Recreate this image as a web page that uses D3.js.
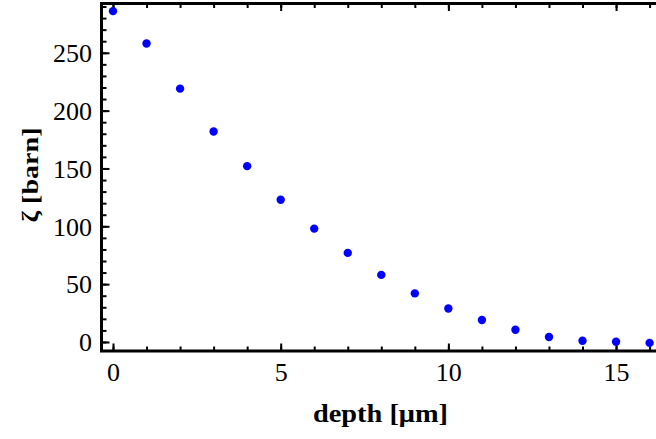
<!DOCTYPE html>
<html lang="en">
<head>
  <meta charset="UTF-8">
  <title>zeta vs depth</title>
  <script src="https://d3js.org/d3.v7.min.js"></script>
  <style>
    body { margin: 0; padding: 0; background: #fff; }
    svg { display: block; }
    .tick text { font-family: "Liberation Serif", "DejaVu Serif", serif; font-size: 26px; fill: #000; }
    .tick line { stroke: #000; stroke-width: 2px; }
    .title { font-family: "Liberation Serif", "DejaVu Serif", serif; font-weight: bold; fill: #000; }
  </style>
</head>
<body>
  <div id="chart"></div>
  <script>
    // data
    const depth = [0, 1, 2, 3, 4, 5, 6, 7, 8, 9, 10, 11, 12, 13, 14, 15, 16];
    const zeta = [286, 258, 219, 182, 152, 123, 98, 77, 58, 42, 29, 19, 10.6, 4.3, 1, 0.2, -0.8];

    const xMajor = [0, 5, 10, 15];
    const xMinor = d3.range(0, 17, 1);
    const yMajor = [0, 50, 100, 150, 200, 250];
    const yMinor = d3.range(0, 300, 10);

    const width = 656, height = 439;
    const plotLeft = 101.5, plotRight = 662, plotTop = 3.5, plotBottom = 351;

    const x = d3.scaleLinear().domain([-0.343, 16.37]).range([plotLeft, plotRight]);
    const y = d3.scaleLinear().domain([-7.8, 292.6]).range([plotBottom, plotTop]);

    const svg = d3.select("#chart").append("svg")
      .attr("width", width)
      .attr("height", height);

    // minor ticks
    svg.append("g")
      .attr("transform", `translate(${plotLeft},0)`)
      .call(d3.axisLeft(y).tickValues(yMinor).tickSize(-5).tickFormat(""))
      .call(g => g.select(".domain").remove());
    svg.append("g")
      .attr("transform", `translate(0,${plotBottom})`)
      .call(d3.axisBottom(x).tickValues(xMinor).tickSize(-4.5).tickFormat(""))
      .call(g => g.select(".domain").remove());
    svg.append("g")
      .attr("transform", `translate(0,${plotTop})`)
      .call(d3.axisTop(x).tickValues(xMinor).tickSize(-4.5).tickFormat(""))
      .call(g => g.select(".domain").remove());

    // major ticks with labels
    svg.append("g")
      .attr("transform", `translate(${plotLeft},0)`)
      .call(d3.axisLeft(y).tickValues(yMajor).tickSizeInner(-8).tickSizeOuter(0).tickPadding(9.5))
      .call(g => g.select(".domain").remove())
      .call(g => g.selectAll(".tick text").attr("dy", "0.34em"));
    svg.append("g")
      .attr("transform", `translate(0,${plotBottom})`)
      .call(d3.axisBottom(x).tickValues(xMajor).tickSizeInner(-7.5).tickSizeOuter(0).tickPadding(12))
      .call(g => g.select(".domain").remove());
    svg.append("g")
      .attr("transform", `translate(0,${plotTop})`)
      .call(d3.axisTop(x).tickValues(xMajor).tickSizeInner(-7.5).tickSizeOuter(0).tickFormat(""))
      .call(g => g.select(".domain").remove());

    // frame
    svg.append("path")
      .attr("d", `M${plotRight},${plotTop}H${plotLeft}V${plotBottom}H${plotRight}`)
      .attr("fill", "none")
      .attr("stroke", "#000")
      .attr("stroke-width", 3);

    // points
    svg.append("g")
      .selectAll("circle")
      .data(depth)
      .join("circle")
      .attr("cx", d => x(d))
      .attr("cy", (d, i) => y(zeta[i]))
      .attr("r", 4.2)
      .attr("fill", "#0000ff");

    // axis titles
    svg.append("text")
      .attr("class", "title")
      .attr("x", 380.5)
      .attr("y", 422)
      .attr("text-anchor", "middle")
      .attr("font-size", 25)
      .attr("textLength", 135)
      .attr("lengthAdjust", "spacingAndGlyphs")
      .text("depth [μm]");

    svg.append("text")
      .attr("class", "title")
      .attr("transform", "translate(38,175) rotate(-90)")
      .attr("text-anchor", "middle")
      .attr("font-size", 24)
      .attr("textLength", 95)
      .attr("lengthAdjust", "spacingAndGlyphs")
      .text("ζ [barn]");
  </script>
</body>
</html>
